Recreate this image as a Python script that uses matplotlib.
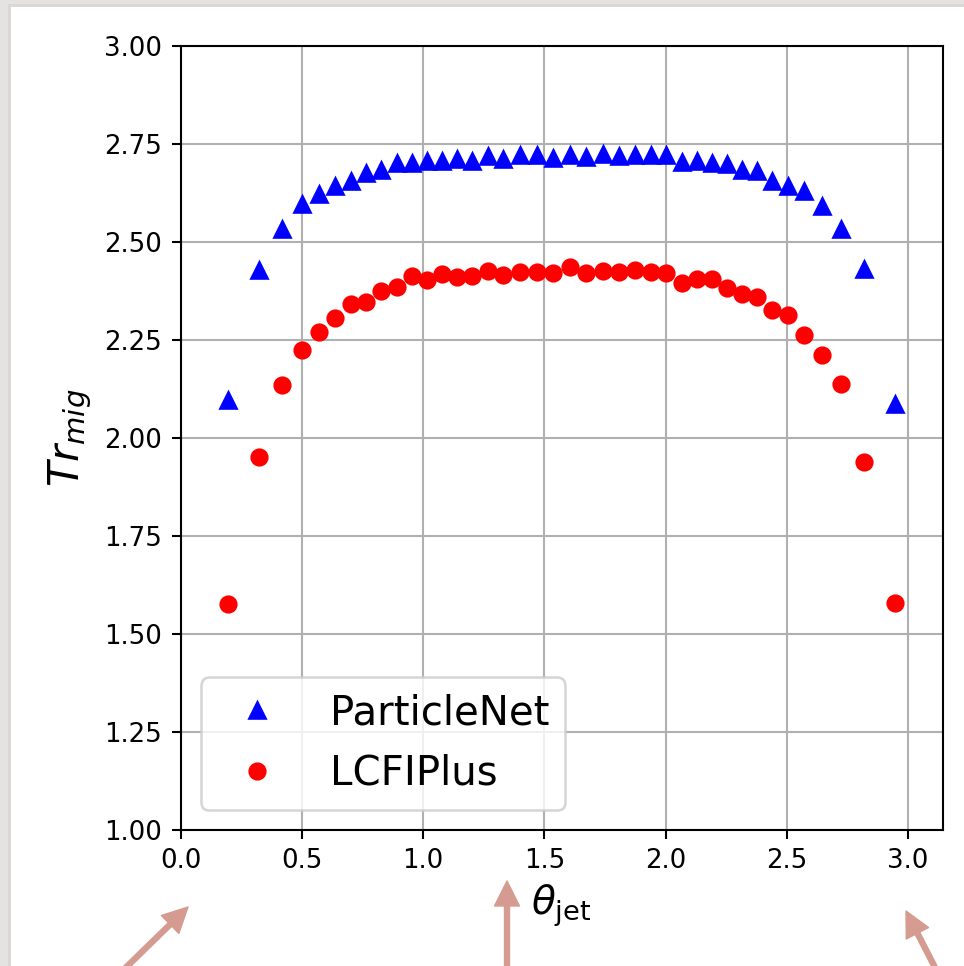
import matplotlib
matplotlib.use("Agg")
import matplotlib.pyplot as plt
from matplotlib.patches import Rectangle

# scale factor: figure is rendered at ~1.87x default sizes
S = 1.872

# jet polar angle bins
theta = [0.197, 0.324, 0.420, 0.500, 0.571, 0.637, 0.702, 0.764, 0.827, 0.891,
         0.953, 1.015, 1.077, 1.139, 1.203, 1.269, 1.331, 1.400, 1.469, 1.537,
         1.604, 1.672, 1.743, 1.809, 1.875, 1.939, 2.002, 2.066, 2.128, 2.193,
         2.252, 2.314, 2.378, 2.440, 2.503, 2.572, 2.644, 2.723, 2.818, 2.946]

tr_particlenet = [2.096, 2.428, 2.534, 2.596, 2.622, 2.644, 2.655, 2.676, 2.683, 2.701,
                  2.701, 2.706, 2.707, 2.713, 2.706, 2.719, 2.713, 2.721, 2.723, 2.714,
                  2.721, 2.716, 2.724, 2.719, 2.721, 2.721, 2.721, 2.704, 2.706, 2.702,
                  2.699, 2.684, 2.682, 2.655, 2.643, 2.631, 2.592, 2.534, 2.432, 2.087]

tr_lcfiplus = [1.577, 1.951, 2.134, 2.224, 2.270, 2.305, 2.341, 2.348, 2.376, 2.386,
               2.414, 2.403, 2.418, 2.411, 2.414, 2.426, 2.416, 2.424, 2.423, 2.420,
               2.435, 2.420, 2.426, 2.423, 2.429, 2.423, 2.420, 2.395, 2.405, 2.405,
               2.382, 2.367, 2.360, 2.327, 2.314, 2.263, 2.212, 2.137, 1.940, 1.580]

x_ticks = [0.0, 0.5, 1.0, 1.5, 2.0, 2.5, 3.0]
y_ticks = [1.00, 1.25, 1.50, 1.75, 2.00, 2.25, 2.50, 2.75, 3.00]

W, H = 964, 966
fig = plt.figure(figsize=(W / 100, H / 100), dpi=100, facecolor="#e4e3e1")

# white slide card with a soft shadow
fig.add_artist(Rectangle((8 / W, 0), 1, (H - 4) / H, transform=fig.transFigure,
                         facecolor="#d2d1cf", edgecolor="none", alpha=0.6, zorder=0))
fig.add_artist(Rectangle((11 / W, 0), 1, (H - 7) / H, transform=fig.transFigure,
                         facecolor="white", edgecolor="none", zorder=0))

ax = fig.add_axes([180.5 / W, 1 - 830 / H, 762 / W, 784 / H])
ax.set_facecolor("white")

ax.plot(theta, tr_particlenet, linestyle="none", marker="^", color="blue",
        markersize=6 * S, markeredgewidth=S, label="ParticleNet")
ax.plot(theta, tr_lcfiplus, linestyle="none", marker="o", color="red",
        markersize=6 * S, markeredgewidth=S, label="LCFIPlus")

ax.set_xlim(0, 3.14159)
ax.set_ylim(1.0, 3.0)
ax.set_xticks(x_ticks)
ax.set_yticks(y_ticks)
ax.set_xticklabels([f"{v:.1f}" for v in x_ticks])
ax.set_yticklabels([f"{v:.2f}" for v in y_ticks])
ax.grid(True, color="#b0b0b0", linewidth=0.8 * S)
ax.tick_params(labelsize=10 * S, width=0.8 * S, length=3.5 * S, pad=3.5 * S)
for sp in ax.spines.values():
    sp.set_linewidth(0.8 * S)

ax.set_xlabel(r"$\theta_{\rm jet}$", fontsize=15 * S, labelpad=3 * S)
ax.set_ylabel(r"$Tr_{mig}$", fontsize=16 * S, labelpad=4 * S)

leg = ax.legend(loc="lower left", fontsize=15.5 * S)
leg.get_frame().set_linewidth(S)

# pointer arrows below the axis
arrow_kw = dict(width=3.6, headwidth=18, headlength=18, shrink=0,
                color="#d59b90", edgecolor="none")
for tip, tail in [((188, 59), (110, -17)),
                  ((507, 85), (507, -10)),
                  ((906, 55), (944, -19))]:
    fig.add_artist(plt.Annotation("", xy=tip, xycoords="figure pixels",
                                  xytext=tail, textcoords="figure pixels",
                                  arrowprops=arrow_kw, annotation_clip=False))

fig.savefig("out.png", dpi=100, facecolor=fig.get_facecolor())
